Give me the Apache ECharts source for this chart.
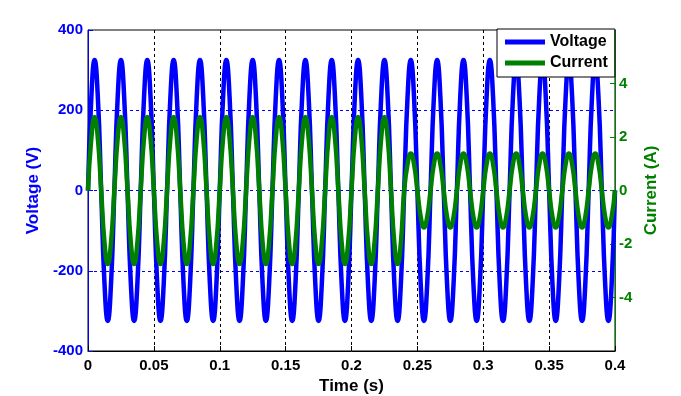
<!DOCTYPE html>
<html>
<head>
<meta charset="utf-8">
<script src="https://cdn.jsdelivr.net/npm/echarts@6/dist/echarts.min.js"></script>
<style>
html,body{margin:0;padding:0;background:#fff;}
#chart{width:681px;height:396px;}
</style>
</head>
<body>
<div id="chart"></div>
<script>
// Sample times (s)
const time = [
0,0.0025,0.005,0.0075,0.01,0.0125,0.015,0.0175,
0.02,0.0225,0.025,0.0275,0.03,0.0325,0.035,0.0375,
0.04,0.0425,0.045,0.0475,0.05,0.0525,0.055,0.0575,
0.06,0.0625,0.065,0.0675,0.07,0.0725,0.075,0.0775,
0.08,0.0825,0.085,0.0875,0.09,0.0925,0.095,0.0975,
0.1,0.1025,0.105,0.1075,0.11,0.1125,0.115,0.1175,
0.12,0.1225,0.125,0.1275,0.13,0.1325,0.135,0.1375,
0.14,0.1425,0.145,0.1475,0.15,0.1525,0.155,0.1575,
0.16,0.1625,0.165,0.1675,0.17,0.1725,0.175,0.1775,
0.18,0.1825,0.185,0.1875,0.19,0.1925,0.195,0.1975,
0.2,0.2025,0.205,0.2075,0.21,0.2125,0.215,0.2175,
0.22,0.2225,0.225,0.2275,0.23,0.2325,0.235,0.2375,
0.24,0.2425,0.245,0.2475,0.25,0.2525,0.255,0.2575,
0.26,0.2625,0.265,0.2675,0.27,0.2725,0.275,0.2775,
0.28,0.2825,0.285,0.2875,0.29,0.2925,0.295,0.2975,
0.3,0.3025,0.305,0.3075,0.31,0.3125,0.315,0.3175,
0.32,0.3225,0.325,0.3275,0.33,0.3325,0.335,0.3375,
0.34,0.3425,0.345,0.3475,0.35,0.3525,0.355,0.3575,
0.36,0.3625,0.365,0.3675,0.37,0.3725,0.375,0.3775,
0.38,0.3825,0.385,0.3875,0.39,0.3925,0.395,0.3975,
0.4
];
// Voltage (V)
const voltage = [
0,230,325,230,0,-230,-325,-230,
0,230,325,230,0,-230,-325,-230,
0,230,325,230,0,-230,-325,-230,
0,230,325,230,0,-230,-325,-230,
0,230,325,230,0,-230,-325,-230,
0,230,325,230,0,-230,-325,-230,
0,230,325,230,0,-230,-325,-230,
0,230,325,230,0,-230,-325,-230,
0,230,325,230,0,-230,-325,-230,
0,230,325,230,0,-230,-325,-230,
0,230,325,230,0,-230,-325,-230,
0,230,325,230,0,-230,-325,-230,
0,230,325,230,0,-230,-325,-230,
0,230,325,230,0,-230,-325,-230,
0,230,325,230,0,-230,-325,-230,
0,230,325,230,0,-230,-325,-230,
0,230,325,230,0,-230,-325,-230,
0,230,325,230,0,-230,-325,-230,
0,230,325,230,0,-230,-325,-230,
0,230,325,230,0,-230,-325,-230,
0
];
// Current (A)
const current = [
0,1.94,2.75,1.94,0,-1.94,-2.75,-1.94,
0,1.94,2.75,1.94,0,-1.94,-2.75,-1.94,
0,1.94,2.75,1.94,0,-1.94,-2.75,-1.94,
0,1.94,2.75,1.94,0,-1.94,-2.75,-1.94,
0,1.94,2.75,1.94,0,-1.94,-2.75,-1.94,
0,1.94,2.75,1.94,0,-1.94,-2.75,-1.94,
0,1.94,2.75,1.94,0,-1.94,-2.75,-1.94,
0,1.94,2.75,1.94,0,-1.94,-2.75,-1.94,
0,1.94,2.75,1.94,0,-1.94,-2.75,-1.94,
0,1.94,2.75,1.94,0,-1.94,-2.75,-1.94,
0,1.94,2.75,1.94,0,-1.94,-2.75,-1.94,
0,1.94,2.75,1.94,0,-1.94,-2.75,-1.94,
0,0.98,1.38,0.98,0,-0.98,-1.38,-0.98,
0,0.98,1.38,0.98,0,-0.98,-1.38,-0.98,
0,0.98,1.38,0.98,0,-0.98,-1.38,-0.98,
0,0.98,1.38,0.98,0,-0.98,-1.38,-0.98,
0,0.98,1.38,0.98,0,-0.98,-1.38,-0.98,
0,0.98,1.38,0.98,0,-0.98,-1.38,-0.98,
0,0.98,1.38,0.98,0,-0.98,-1.38,-0.98,
0,0.98,1.38,0.98,0,-0.98,-1.38,-0.98,
0
];
const currentTicks = [-4,-2,0,2,4];

const FONT = 'Arial, "Liberation Sans", Helvetica, sans-serif';
const BLUE = '#0000ff';
const GREEN = '#008000';

const chart = echarts.init(document.getElementById('chart'), null, {renderer:'canvas'});
chart.setOption({
  animation: false,
  backgroundColor: '#fff',
  grid: {left: 88, right: 66, top: 30, bottom: 45, outerBoundsMode: 'none', containLabel: false, show: true, borderColor: '#000', borderWidth: 1, backgroundColor: 'transparent'},
  legend: {
    left: 497, top: 29, orient: 'vertical',
    padding: [5, 7, 6, 8],
    itemGap: 5,
    itemWidth: 40, itemHeight: 5,
    icon: 'rect',
    backgroundColor: '#fff', borderColor: '#000', borderWidth: 1,
    textStyle: {fontFamily: FONT, fontWeight: 'bold', fontSize: 16, color: '#000'},
    data: ['Voltage', 'Current']
  },
  xAxis: {
    type: 'value', min: 0, max: 0.4, interval: 0.05,
    name: 'Time (s)', nameLocation: 'middle', nameGap: 27,
    nameTextStyle: {fontFamily: FONT, fontWeight: 'bold', fontSize: 17, color: '#000'},
    axisLine: {show: true, onZero: false, lineStyle: {color: '#000', width: 1}},
    axisTick: {show: true, inside: true, length: 5, lineStyle: {color: '#000'}},
    axisLabel: {fontFamily: FONT, fontWeight: 'bold', fontSize: 15, color: '#000', margin: 7},
    splitLine: {show: true, showMinLine: false, showMaxLine: false, lineStyle: {color: '#000', type: [3, 3], width: 1}}
  },
  yAxis: [
    {
      type: 'value', min: -400, max: 400, interval: 200, position: 'left',
      name: 'Voltage (V)', nameLocation: 'middle', nameGap: 41, nameRotate: 90,
      nameTextStyle: {fontFamily: FONT, fontWeight: 'bold', fontSize: 17, color: BLUE},
      axisLine: {show: true, onZero: false, lineStyle: {color: BLUE, width: 1}},
      axisTick: {show: true, inside: true, length: 5, lineStyle: {color: BLUE}},
      axisLabel: {fontFamily: FONT, fontWeight: 'bold', fontSize: 15, color: BLUE, margin: 5},
      splitLine: {show: true, showMinLine: false, showMaxLine: false, lineStyle: {color: BLUE, type: [3, 3], width: 1}}
    },
    {
      type: 'value', min: -6, max: 6, interval: 2, position: 'right',
      name: 'Current (A)', nameLocation: 'middle', nameGap: 14, nameRotate: 90,
      nameTextStyle: {fontFamily: FONT, fontWeight: 'bold', fontSize: 17, color: GREEN},
      axisLine: {show: true, onZero: false, lineStyle: {color: GREEN, width: 1}},
      axisTick: {show: true, inside: true, length: 5, customValues: currentTicks, lineStyle: {color: GREEN}},
      axisLabel: {fontFamily: FONT, fontWeight: 'bold', fontSize: 15, color: GREEN, margin: 4, customValues: currentTicks},
      splitLine: {show: false}
    }
  ],
  series: [
    {
      name: 'Voltage', type: 'line', yAxisIndex: 0,
      data: time.map((t, i) => [t, voltage[i]]),
      showSymbol: false, smooth: 0.5,
      lineStyle: {color: BLUE, width: 4.5},
      itemStyle: {color: BLUE}
    },
    {
      name: 'Current', type: 'line', yAxisIndex: 1,
      data: time.map((t, i) => [t, current[i]]),
      showSymbol: false, smooth: 0.5,
      lineStyle: {color: GREEN, width: 4.5},
      itemStyle: {color: GREEN}
    }
  ]
});
</script>
</body>
</html>
